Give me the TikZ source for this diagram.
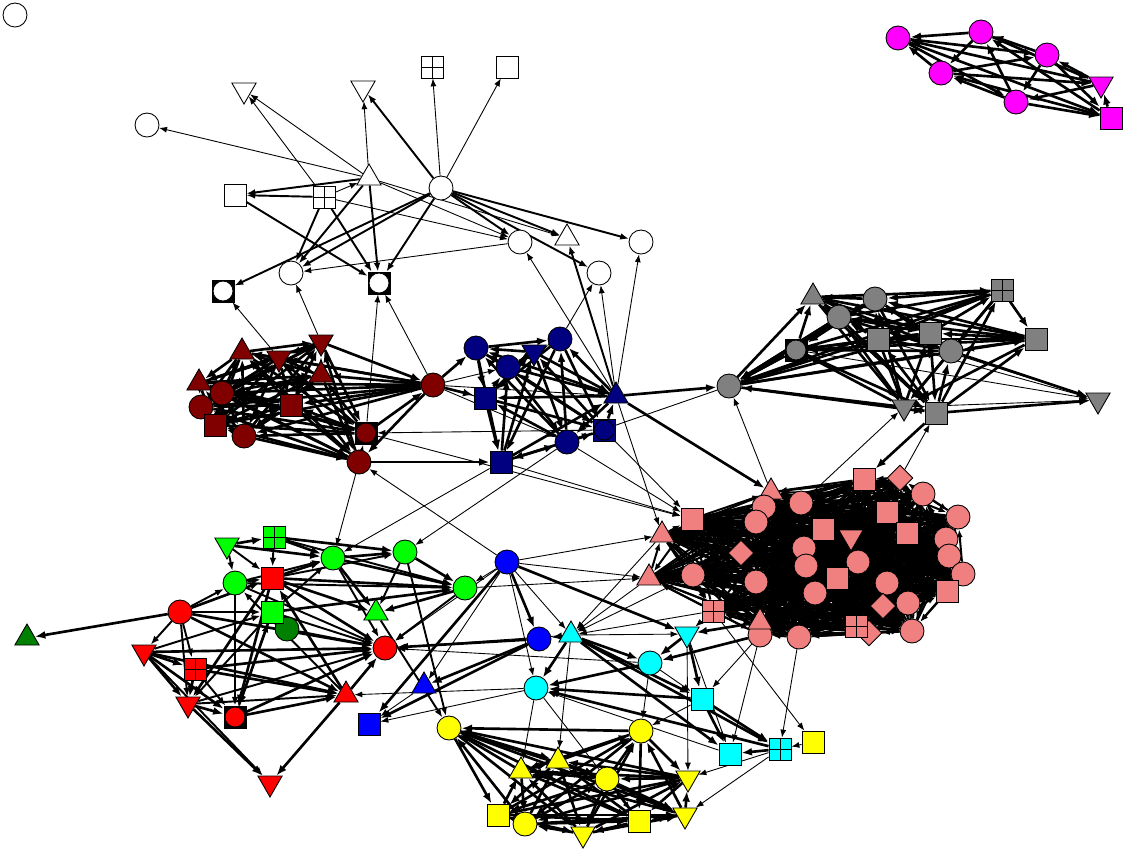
\documentclass[tikz,border=0pt]{standalone}
\usetikzlibrary{shapes.geometric,arrows.meta,backgrounds}
\definecolor{nwdred}{RGB}{128,0,0}
\definecolor{nwnavy}{RGB}{0,0,128}
\definecolor{nwgrey}{RGB}{128,128,128}
\definecolor{nwpink}{RGB}{240,128,128}
\definecolor{nwmag}{RGB}{255,0,255}
\definecolor{nwgreen}{RGB}{0,255,0}
\definecolor{nwdgreen}{RGB}{0,128,0}
\definecolor{nwred}{RGB}{255,0,0}
\definecolor{nwblue}{RGB}{0,0,255}
\definecolor{nwcyan}{RGB}{0,255,255}
\definecolor{nwyellow}{RGB}{255,255,0}

\tikzset{
  vx/.style={draw=black, line width=0.5pt, inner sep=0pt, fill=#1},
  circ/.style={vx=#1, circle, minimum size=0.48cm},
  sqr/.style={vx=#1, rectangle, minimum size=0.44cm},
  tup/.style={vx=#1, regular polygon, regular polygon sides=3, minimum size=0.56cm},
  tdn/.style={tup=#1, shape border rotate=180},
  dia/.style={vx=#1, diamond, minimum size=0.52cm},
  grd/.style={sqr=#1, path picture={\draw[line width=0.5pt]
      (path picture bounding box.north) -- (path picture bounding box.south)
      (path picture bounding box.west) -- (path picture bounding box.east);}},
  rsq/.style={sqr=black, path picture={\draw[fill=#1, line width=0.5pt]
      (path picture bounding box.center) circle (0.2cm);}},
  lnk/.style={-{Latex[length=4.5pt,width=3.4pt]}, line width=0.5pt},
  lnkp/.style={-{Latex[length=4.5pt,width=3.4pt]}, line width=1.15pt},
  lnkm/.style={-{Latex[length=5pt,width=3.8pt]}, line width=1.1pt},
  lnkb/.style={-{Latex[length=6pt,width=4.5pt]}, line width=1.5pt},
}

% every pair of #1<i>, i=1..#2, with style #3
\newcommand{\meshall}[3]{%
  \foreach \i in {1,...,#2}{%
    \pgfmathtruncatemacro\nxt{\i+1}%
    \ifnum\nxt>#2\else
      \foreach \j in {\nxt,...,#2}{%
        \pgfmathtruncatemacro\dir{mod(\i+\j,2)}%
        \ifnum\dir=0 \draw[#3] (#1\i) -- (#1\j);\else \draw[#3] (#1\j) -- (#1\i);\fi
      }%
    \fi
  }}

\begin{document}
\begin{tikzpicture}[x=0.02cm,y=-0.02cm]
  \useasboundingbox (0,0) rectangle (1138,867);

  \node[circ=white] (iso) at (15,15) {};

  % white group
  \node[circ=white] (w1) at (147,125) {};
  \node[tdn=white] (w2) at (244,90) {};
  \node[tdn=white] (w3) at (363,88) {};
  \node[grd=white] (w4) at (432,67) {};
  \node[sqr=white] (w5) at (507,67) {};
  \node[tup=white] (w6) at (369,178) {};
  \node[circ=white] (w7) at (441,188) {};
  \node[sqr=white] (w8) at (235,195) {};
  \node[grd=white] (w9) at (324,197) {};
  \node[circ=white] (w10) at (291,273) {};
  \node[rsq=white] (w11) at (223,291) {};
  \node[rsq=white] (w12) at (379,283) {};
  \node[circ=white] (w13) at (520,242) {};
  \node[tup=white] (w14) at (567,238) {};
  \node[circ=white] (w15) at (641,242) {};
  \node[circ=white] (w16) at (599,273) {};

  % magenta group
  \node[circ=nwmag] (m1) at (898,38) {};
  \node[circ=nwmag] (m2) at (981,32) {};
  \node[circ=nwmag] (m3) at (1047,55) {};
  \node[circ=nwmag] (m4) at (941,73) {};
  \node[circ=nwmag] (m5) at (1016,102) {};
  \node[tdn=nwmag] (m6) at (1101,84) {};
  \node[sqr=nwmag] (m7) at (1111,118) {};

  % grey group
  \node[tup=nwgrey] (g1) at (813,297) {};
  \node[circ=nwgrey] (g2) at (875,299) {};
  \node[grd=nwgrey] (g3) at (1002,290) {};
  \node[circ=nwgrey] (g4) at (839,317) {};
  \node[sqr=nwgrey] (g5) at (878,339) {};
  \node[sqr=nwgrey] (g6) at (930,333) {};
  \node[sqr=nwgrey] (g7) at (1036,339) {};
  \node[rsq=nwgrey] (g8) at (796,350) {};
  \node[circ=nwgrey] (g9) at (951,351) {};
  \node[circ=nwgrey] (g10) at (729,386) {};
  \node[tdn=nwgrey] (g11) at (904,407) {};
  \node[sqr=nwgrey] (g12) at (936,413) {};
  \node[tdn=nwgrey] (g13) at (1098,400) {};

  % dark red group
  \node[tup=nwdred] (r1) at (242,352) {};
  \node[tdn=nwdred] (r2) at (279,358) {};
  \node[tdn=nwdred] (r3) at (321,342) {};
  \node[tup=nwdred] (r4) at (321,375) {};
  \node[tup=nwdred] (r5) at (199,383) {};
  \node[circ=nwdred] (r6) at (222,393) {};
  \node[circ=nwdred] (r7) at (201,407) {};
  \node[sqr=nwdred] (r8) at (291,405) {};
  \node[sqr=nwdred] (r9) at (215,425) {};
  \node[circ=nwdred] (r10) at (244,436) {};
  \node[rsq=nwdred] (r11) at (366,433) {};
  \node[circ=nwdred] (r12) at (359,462) {};
  \node[circ=nwdred] (r13) at (433,385) {};

  % navy group
  \node[circ=nwnavy] (n1) at (476,348) {};
  \node[tdn=nwnavy] (n2) at (534,352) {};
  \node[circ=nwnavy] (n3) at (560,339) {};
  \node[circ=nwnavy] (n4) at (508,367) {};
  \node[sqr=nwnavy] (n5) at (485,398) {};
  \node[tup=nwnavy] (n6) at (616,396) {};
  \node[rsq=nwnavy, fill=nwnavy] (n7) at (604,430) {};
  \node[circ=nwnavy] (n8) at (567,442) {};
  \node[sqr=nwnavy] (n9) at (501,462) {};

  % pink group
  \node[tup=nwpink] (p1) at (771,492) {};
  \node[sqr=nwpink] (p2) at (864,479) {};
  \node[dia=nwpink] (p3) at (900,478) {};
  \node[circ=nwpink] (p4) at (923,494) {};
  \node[circ=nwpink] (p5) at (764,507) {};
  \node[circ=nwpink] (p6) at (756,522) {};
  \node[circ=nwpink] (p7) at (801,503) {};
  \node[sqr=nwpink] (p8) at (692,519) {};
  \node[sqr=nwpink] (p9) at (887,512) {};
  \node[circ=nwpink] (p10) at (958,517) {};
  \node[tup=nwpink] (p11) at (662,535) {};
  \node[sqr=nwpink] (p12) at (823,529) {};
  \node[tdn=nwpink] (p13) at (851,537) {};
  \node[sqr=nwpink] (p14) at (907,533) {};
  \node[dia=nwpink] (p15) at (741,553) {};
  \node[circ=nwpink] (p16) at (804,548) {};
  \node[circ=nwpink] (p17) at (946,539) {};
  \node[circ=nwpink] (p18) at (949,556) {};
  \node[circ=nwpink] (p19) at (806,566) {};
  \node[circ=nwpink] (p20) at (858,562) {};
  \node[circ=nwpink] (p21) at (693,575) {};
  \node[tup=nwpink] (p22) at (649,578) {};
  \node[circ=nwpink] (p23) at (756,582) {};
  \node[sqr=nwpink] (p24) at (837,578) {};
  \node[circ=nwpink] (p25) at (963,574) {};
  \node[circ=nwpink] (p26) at (887,583) {};
  \node[sqr=nwpink] (p27) at (947,591) {};
  \node[circ=nwpink] (p28) at (815,593) {};
  \node[dia=nwpink] (p29) at (883,606) {};
  \node[circ=nwpink] (p30) at (908,603) {};
  \node[grd=nwpink] (p31) at (713,611) {};
  \node[circ=nwpink] (p33) at (760,635) {};
  \node[tup=nwpink] (p32) at (760,622) {};
  \node[circ=nwpink] (p34) at (799,637) {};
  \node[dia=nwpink] (p36) at (869,633) {};
  \node[grd=nwpink] (p35) at (856,626) {};
  \node[circ=nwpink] (p37) at (912,631) {};

  % green and red group
  \node[tdn=nwgreen] (l1) at (227,545) {};
  \node[grd=nwgreen] (l2) at (274,537) {};
  \node[circ=nwgreen] (l3) at (333,558) {};
  \node[circ=nwgreen] (l4) at (405,552) {};
  \node[circ=nwgreen] (l5) at (235,583) {};
  \node[sqr=nwred] (l6) at (272,578) {};
  \node[circ=nwgreen] (l7) at (465,588) {};
  \node[circ=nwdgreen] (l9) at (287,629) {};
  \node[sqr=nwgreen] (l8) at (272,612) {};
  \node[tup=nwgreen] (l10) at (376,613) {};
  \node[circ=nwred] (l11) at (180,612) {};
  \node[tup=nwdgreen] (l12) at (27,638) {};
  \node[tdn=nwred] (l13) at (144,652) {};
  \node[circ=nwred] (l14) at (385,648) {};
  \node[grd=nwred] (l15) at (195,669) {};
  \node[tup=nwred] (l16) at (346,695) {};
  \node[tdn=nwred] (l17) at (188,704) {};
  \node[rsq=nwred] (l18) at (235,717) {};
  \node[tdn=nwred] (l19) at (270,783) {};

  % blue group
  \node[circ=nwblue] (b1) at (507,562) {};
  \node[circ=nwblue] (b2) at (539,639) {};
  \node[tup=nwblue] (b3) at (424,686) {};
  \node[sqr=nwblue] (b4) at (369,724) {};

  % cyan group
  \node[tup=nwcyan] (c1) at (571,635) {};
  \node[tdn=nwcyan] (c2) at (687,634) {};
  \node[circ=nwcyan] (c3) at (650,663) {};
  \node[circ=nwcyan] (c4) at (536,688) {};
  \node[sqr=nwcyan] (c5) at (702,699) {};
  \node[sqr=nwcyan] (c6) at (730,754) {};
  \node[grd=nwcyan] (c7) at (780,749) {};

  % yellow group
  \node[circ=nwyellow] (y1) at (449,728) {};
  \node[circ=nwyellow] (y2) at (641,731) {};
  \node[tup=nwyellow] (y3) at (558,761) {};
  \node[tup=nwyellow] (y4) at (521,771) {};
  \node[circ=nwyellow] (y5) at (607,779) {};
  \node[tdn=nwyellow] (y6) at (688,778) {};
  \node[sqr=nwyellow] (y7) at (498,815) {};
  \node[circ=nwyellow] (y8) at (525,824) {};
  \node[tdn=nwyellow] (y9) at (583,834) {};
  \node[sqr=nwyellow] (y10) at (639,821) {};
  \node[tdn=nwyellow] (y11) at (685,815) {};
  \node[sqr=nwyellow] (y12) at (813,742) {};

  \begin{scope}[on background layer]
    % dense groups
    \meshall{m}{7}{lnkb}
    \meshall{g}{12}{lnkb}
    \meshall{r}{13}{lnkb}
    \meshall{n}{9}{lnkb}
    \meshall{p}{37}{lnkp}
    \meshall{y}{11}{lnkb}

    % white group
    \foreach \a/\b in {w7/w3,w7/w11,w7/w10,w7/w12,w7/w13,w7/w14,w7/w15,w7/w16,
        w6/w8,w6/w12,w6/w10,w9/w8,w9/w12,w9/w10,w8/w12,n6/w14}
      \draw[lnkm] (\a) -- (\b);
    \foreach \a/\b in {w7/w4,w7/w5,w6/w1,w6/w2,w6/w3,w6/w13,w6/w14,w9/w6,w9/w2,
        w9/w13,w13/w10,r2/w11,r3/w10,r11/w12,r13/w12,n6/w13,n6/w15,n6/w16,n3/w16}
      \draw[lnk] (\a) -- (\b);

    % grey group
    \foreach \a/\b in {g12/g13,g9/g13,n6/g10,g12/p2,g2/g10,g4/g10,g8/g10}
      \draw[lnkb] (\a) -- (\b);
    \foreach \a/\b in {g8/g13,g4/g13,g5/g13,g11/g13,p1/g10,p7/g11,p3/g12,g10/n8}
      \draw[lnk] (\a) -- (\b);

    % dark red and navy
    \foreach \a/\b in {r13/n5,r12/n9,n6/p1,r13/n1}
      \draw[lnkb] (\a) -- (\b);
    \foreach \a/\b in {r13/n4,r13/n6,r13/n7,r13/n8,n7/r11,b1/r12,r12/l3,r11/p8,
        n6/p11,n9/p8,n7/p8,n8/p8,n9/l3,n8/l4}
      \draw[lnk] (\a) -- (\b);

    % green and red group
    \foreach \a/\b in {l11/l12,l1/l2,l2/l3,l3/l4,l3/l7,l4/l7,l6/l7,l6/l3,l8/l7,
        l7/l10,l6/l14,l11/l14,l13/l14,l16/l14,l11/l6,l13/l15,l13/l17,l15/l17,
        l17/l18,l17/l19,l18/l14,l16/l19,l13/l16,l8/l18,l3/l10,l6/l10,l15/l16,
        l18/l16,l16/l6,l1/l3,l2/l4,l6/l18,l6/l17,l11/l16,l13/l18,l15/l14}
      \draw[lnkb] (\a) -- (\b);
    \foreach \a/\b in {l5/l6,l6/l4,l8/l3,l4/l10,l8/l14,l9/l14,l11/l5,l11/l13,
        l11/l15,l11/l17,l13/l19,l15/l18,l17/l16,l16/l5,l8/l17,l5/l18,l1/l5,
        l1/l6,l2/l6,l2/l7,l5/l14,l10/y1,l4/y1,l3/l14,l7/l14,l5/l3,l5/l7,l11/l8,
        l13/l8,l18/l8,l17/l14}
      \draw[lnkm] (\a) -- (\b);

    % blue and cyan
    \foreach \a/\b in {b1/b2,b1/b4,b1/c2,b2/b4,b2/b3,b2/l14,c1/c4,c1/c3,c1/c5,
        c1/c6,c1/c7,c1/b2,c2/c3,c2/c5,c3/c4,c5/c4,c7/c4,c5/c7,c7/c6,c5/c6,
        p32/c2,p33/c3}
      \draw[lnkb] (\a) -- (\b);
    \foreach \a/\b in {b1/b3,b1/l14,b1/c1,b1/c4,b1/l7,b3/b4,c4/b4,c1/c2,c2/c6,
        c6/c4,c3/c5,y12/c7,c7/y11,c7/y6,c5/y2,c2/y6,c1/y3,c4/y4,c3/y2,c4/y10,
        c3/l14,c4/l16,c1/l14,p22/c1,p21/c1,p11/c1,p31/c1,p31/c2,p33/c5,p33/c6,
        p31/y12,p34/c7,b1/p11,b1/p22,l7/p22}
      \draw[lnk] (\a) -- (\b);
  \end{scope}
\end{tikzpicture}
\end{document}
